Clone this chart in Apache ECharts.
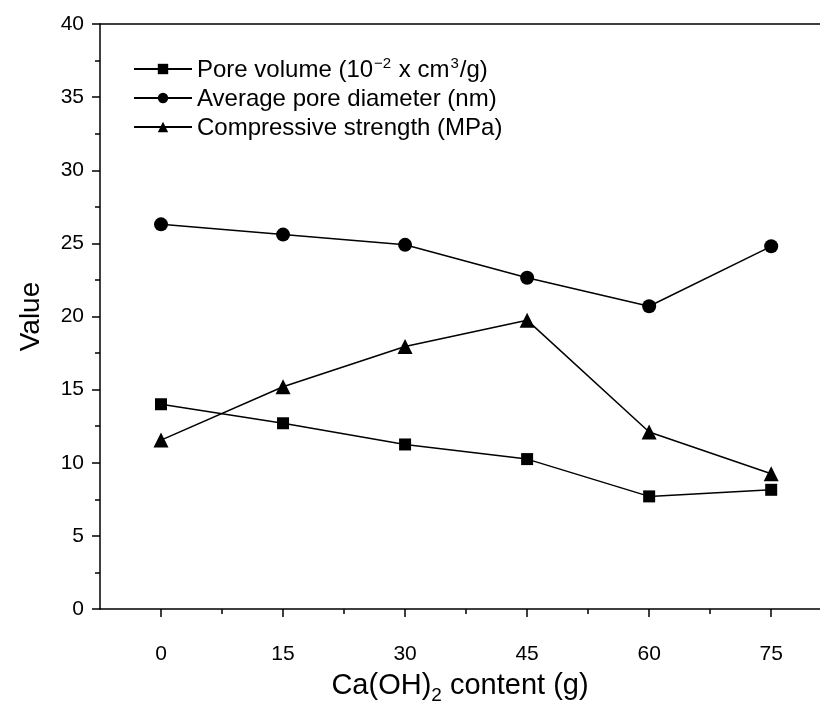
<!DOCTYPE html>
<html>
<head>
<meta charset="utf-8">
<script src="https://cdn.jsdelivr.net/npm/echarts@6/dist/echarts.min.js"></script>
<style>
	html, body { margin: 0; padding: 0; background: #fff; }
	#main { width: 820px; height: 705px; }
</style>
</head>
<body>
<div id="main"></div>
<script>
	// Ca(OH)2 content (g)
	var contents = [0, 15, 30, 45, 60, 75];
	// 孔体积 10^-2 cm3/g
	var poreVolume = [14.0, 12.7, 11.25, 10.25, 7.7, 8.15];
	// 平均孔径 nm
	var poreDiameter = [26.3, 25.6, 24.9, 22.65, 20.7, 24.8];
	// 抗压强度 MPa
	var strength = [11.55, 15.2, 17.95, 19.75, 12.1, 9.25];
	var majorTicks = [0, 15, 30, 45, 60, 75];
	var minorTicks = [7.5, 22.5, 37.5, 52.5, 67.5];
	var seriesNames = ['Pore volume', 'Average pore diameter', 'Compressive strength'];

	function pairs(vals) {
		var out = [];
		for (var i = 0; i < contents.length; i++) {
			out.push([contents[i], vals[i]]);
		}
		return out;
	}

	var font = 'Liberation Sans, Arial, sans-serif';
	var black = '#000';

	function makeSeries(name, vals, symbol, size) {
		return {
			name: name,
			type: 'line',
			data: pairs(vals),
			symbol: symbol,
			symbolSize: size,
			xAxisIndex: 0,
			lineStyle: { color: black, width: 1.5 },
			itemStyle: { color: black },
			emphasis: { disabled: true }
		};
	}

	var chart = echarts.init(document.getElementById('main'));
	var option = {
		backgroundColor: '#fff',
		animation: false,
		grid: { left: 100, right: 0, top: 24, bottom: 96, containLabel: false, outerBoundsMode: 'none' },
		legend: {
			orient: 'vertical',
			left: 128,
			top: 51,
			itemWidth: 58,
			itemHeight: 13,
			itemGap: 5,
			data: seriesNames,
			formatter: function(name) {
				if (name == 'Pore volume') {
					return '{n|Pore volume (10}{sup|−2}{n| x cm}{sup|3}{n|/g)}';
				} else if (name == 'Average pore diameter') {
					return '{n|Average pore diameter (nm)}';
				}
				return '{n|Compressive strength (MPa)}';
			},
			textStyle: {
				fontFamily: font,
				color: black,
				padding: [0, 0, 0, 0],
				rich: {
					n: { fontSize: 24, fontFamily: font, color: black, lineHeight: 26, verticalAlign: 'bottom' },
					sup: { fontSize: 15, fontFamily: font, color: black, lineHeight: 26, verticalAlign: 'top', padding: [0, 1, 10, 1] }
				}
			}
		},
		xAxis: [{
			type: 'value',
			position: 'bottom',
			min: -7.5,
			max: 81,
			splitLine: { show: false },
			axisLine: { onZero: false, lineStyle: { color: black, width: 1.5 } },
			axisTick: { customValues: majorTicks, length: 8, lineStyle: { color: black, width: 1.5 } },
			axisLabel: { customValues: majorTicks, margin: 35, fontSize: 21, fontFamily: font, color: black },
			name: '{a|Ca(OH)}{sub|2}{a| content (g)}',
			nameLocation: 'middle',
			nameGap: 62,
			nameTextStyle: {
				rich: {
					a: { fontSize: 29, fontFamily: font, color: black, lineHeight: 34, verticalAlign: 'top' },
					sub: { fontSize: 19, fontFamily: font, color: black, lineHeight: 34, verticalAlign: 'bottom', padding: [14, 0, 0, 0] }
				}
			}
		}, {
			type: 'value',
			position: 'bottom',
			offset: 0,
			min: -7.5,
			max: 81,
			splitLine: { show: false },
			axisLine: { show: false },
			axisTick: { customValues: minorTicks, length: 5, lineStyle: { color: black, width: 1.5 } },
			axisLabel: { show: false }
		}, {
			type: 'value',
			position: 'top',
			min: -7.5,
			max: 81,
			splitLine: { show: false },
			axisLine: { show: true, onZero: false, lineStyle: { color: black, width: 1.5 } },
			axisTick: { show: false },
			axisLabel: { show: false }
		}],
		yAxis: {
			type: 'value',
			min: 0,
			max: 40,
			interval: 5,
			splitLine: { show: false },
			axisLine: { show: true, onZero: false, lineStyle: { color: black, width: 1.5 } },
			axisTick: { show: true, length: 8, lineStyle: { color: black, width: 1.5 } },
			minorTick: { show: true, splitNumber: 2, length: 5, lineStyle: { color: black, width: 1.5 } },
			axisLabel: { margin: 16, fontSize: 21, fontFamily: font, color: black },
			name: 'Value',
			nameLocation: 'middle',
			nameGap: 55,
			nameTextStyle: { fontSize: 28, fontFamily: font, color: black }
		},
		series: [
			makeSeries(seriesNames[0], poreVolume, 'rect', 12),
			makeSeries(seriesNames[1], poreDiameter, 'circle', 14),
			makeSeries(seriesNames[2], strength, 'triangle', 15)
		]
	};
	chart.setOption(option);
</script>
</body>
</html>
